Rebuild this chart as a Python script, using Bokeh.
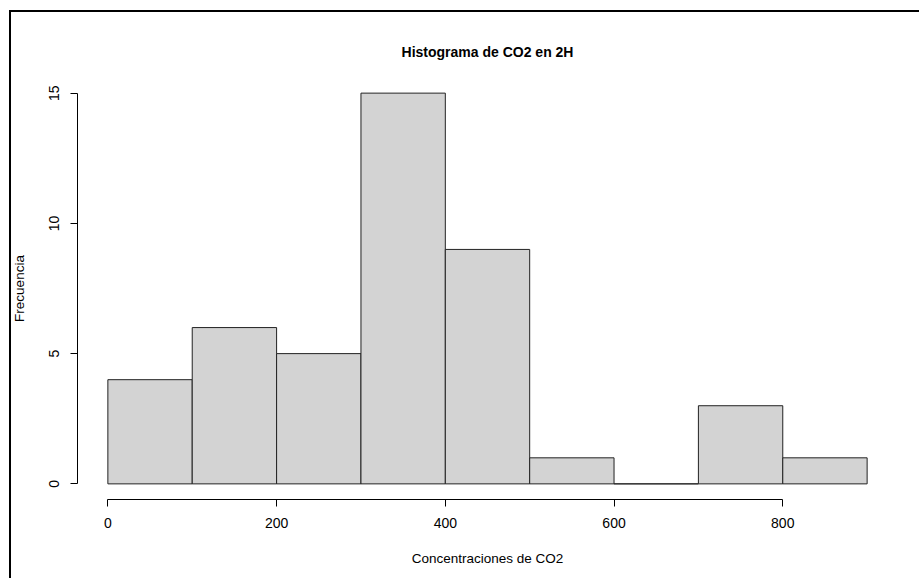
from bokeh.plotting import figure
from bokeh.models import Range1d, LinearAxis, FixedTicker, InlineStyleSheet
from bokeh.embed import file_html
from bokeh.resources import INLINE

# Histogram data (bin edges and counts)
bin_edges = [0, 100, 200, 300, 400, 500, 600, 700, 800, 900]
counts = [4, 6, 5, 15, 9, 1, 0, 3, 1]
x_ticks = [0, 200, 400, 600, 800]
y_ticks = [0, 5, 10, 15]
title_text = "Histograma de CO2 en 2H"
x_label = "Concentraciones de CO2"
y_label = "Frecuencia"

FONT = "Liberation Sans"

p = figure(width=919, height=578, output_backend="svg", toolbar_location=None,
           x_range=Range1d(-36, 936), y_range=Range1d(-0.6, 15.6),
           x_axis_type=None, y_axis_type=None,
           min_border_left=77, min_border_right=22, min_border_top=77, min_border_bottom=79)
p.outline_line_color = None
p.grid.visible = False
p.background_fill_color = "white"
p.border_fill_color = "white"

p.title.text = title_text
p.title.align = "center"
p.title.text_font = FONT
p.title.text_font_size = "14px"
p.title.text_font_style = "bold"
p.title.text_color = "black"
p.title.standoff = 35

p.quad(left=bin_edges[:-1], right=bin_edges[1:], bottom=0, top=counts,
       fill_color="#D3D3D3", line_color="#222222", line_width=1)

def style_axis(ax, ticks, label):
    ax.ticker = FixedTicker(ticks=ticks)
    ax.bounds = (ticks[0], ticks[-1])
    ax.axis_line_color = "black"
    ax.major_tick_line_color = "black"
    ax.minor_tick_line_color = None
    ax.major_tick_out = 7
    ax.major_tick_in = 0
    ax.major_label_text_font = FONT
    ax.major_label_text_font_size = "14px"
    ax.major_label_text_color = "black"
    ax.axis_label = label
    ax.axis_label_text_font = FONT
    ax.axis_label_text_font_size = "13.5px"
    ax.axis_label_text_font_style = "normal"
    ax.axis_label_text_color = "black"

xa = LinearAxis()
style_axis(xa, x_ticks, x_label)
xa.major_label_standoff = 11
xa.axis_label_standoff = 20
p.add_layout(xa, "below")

ya = LinearAxis()
style_axis(ya, y_ticks, y_label)
ya.major_label_orientation = "vertical"
ya.major_label_standoff = 11
ya.axis_label_standoff = 20
p.add_layout(ya, "left")

# Outer frame (left and top edges) like the original exported image
p.stylesheets = [InlineStyleSheet(css="""
:host { position: relative; }
:host::after {
  content: "";
  position: absolute;
  left: 9px; top: 10px; right: -10px; bottom: -10px;
  border-left: 2px solid black;
  border-top: 2px solid black;
  pointer-events: none;
}
""")]

open("out.html", "w").write(file_html(p, INLINE))
